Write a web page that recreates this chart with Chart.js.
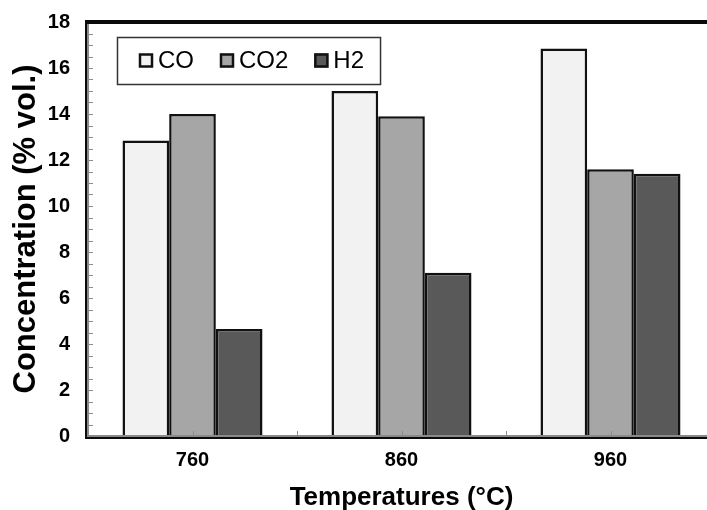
<!DOCTYPE html>
<html>
<head>
<meta charset="utf-8">
<script src="https://cdn.jsdelivr.net/npm/chart.js@4.4.1/dist/chart.umd.min.js"></script>
<style>
  html, body { margin: 0; padding: 0; background: #fff; overflow: hidden; }
  #wrap { width: 707px; height: 510px; overflow: hidden; }
</style>
</head>
<body>
<div id="wrap"><canvas id="gasChart" width="730" height="510"></canvas></div>
<script>
// data
const temperatures = ['760', '860', '960'];
const gasNames = ['CO', 'CO2', 'H2'];
const coValues = [12.85, 15.0, 16.85];
const co2Values = [14.0, 13.9, 11.6];
const h2Values = [4.65, 7.1, 11.4];
const gasColors = ['#f2f2f2', '#a6a6a6', '#595959'];

const FONT = 'Arial, "Liberation Sans", sans-serif';

// plot frame + small inner tick marks
const framePlugin = {
    id: 'frame',
    afterDraw(chart) {
        const { ctx, chartArea: a, scales: { x, y } } = chart;
        ctx.save();

        // y minor ticks (every 0.5), pointing inside
        ctx.strokeStyle = '#8c8c8c';
        ctx.lineWidth = 1;
        for (let v = 0.5; v < y.max; v += 0.5) {
            const py = Math.round(y.getPixelForValue(v)) + 0.5;
            ctx.beginPath();
            ctx.moveTo(a.left, py);
            ctx.lineTo(a.left + 5, py);
            ctx.stroke();
        }

        // x ticks at category centres and boundaries, pointing up
        const half = (x.getPixelForTick(1) - x.getPixelForTick(0)) / 2;
        temperatures.forEach((t, i) => {
            const cx = x.getPixelForTick(i);
            [cx, cx + half].forEach(px => {
                const p = Math.round(px) + 0.5;
                ctx.beginPath();
                ctx.moveTo(p, a.bottom);
                ctx.lineTo(p, a.bottom - 5);
                ctx.stroke();
            });
        });

        // top edge
        ctx.fillStyle = '#0a0a0a';
        ctx.fillRect(a.left - 3, a.top - 2, a.right - a.left + 3, 4);
        // left edge: dark outside, grey inside
        ctx.fillRect(a.left - 3, a.top - 2, 2, a.bottom - a.top + 5);
        ctx.fillStyle = '#8a8a8a';
        ctx.fillRect(a.left - 1, a.top + 2, 2, a.bottom - a.top - 2);
        // bottom edge: grey inside, dark outside
        ctx.fillRect(a.left - 1, a.bottom - 1, a.right - a.left + 1, 2);
        ctx.fillStyle = '#0a0a0a';
        ctx.fillRect(a.left - 3, a.bottom + 1, a.right - a.left + 3, 2);

        ctx.restore();
    }
};

// boxed legend inside the plot area (top-left)
const boxLegendPlugin = {
    id: 'boxLegend',
    afterDraw(chart) {
        const { ctx, chartArea: a } = chart;
        const left = a.left + 29, top = a.top + 15, height = 47;
        const sw = 14, textGap = 5, itemGap = 26, padL = 22, padR = 16;
        ctx.save();
        ctx.font = '24px ' + FONT;
        let width = padL + padR;
        chart.data.datasets.forEach((ds, i) => {
            width += sw + textGap + ctx.measureText(ds.label).width;
            if (i > 0) width += itemGap;
        });
        ctx.fillStyle = '#fff';
        ctx.fillRect(left, top, width, height);
        ctx.strokeStyle = '#333';
        ctx.lineWidth = 1.5;
        ctx.strokeRect(left + 0.5, top + 0.5, width, height);

        let cx = left + padL;
        const cy = top + height / 2;
        chart.data.datasets.forEach((ds, i) => {
            ctx.fillStyle = ds.backgroundColor;
            ctx.fillRect(cx, cy - sw / 2, sw, sw);
            ctx.strokeStyle = '#111';
            ctx.lineWidth = 2.5;
            ctx.strokeRect(cx + 1, cy - sw / 2 + 1, sw - 2, sw - 2);
            cx += sw + textGap;
            ctx.fillStyle = '#000';
            ctx.textBaseline = 'middle';
            ctx.fillText(ds.label, cx, cy + 1);
            cx += ctx.measureText(ds.label).width + itemGap;
        });
        ctx.restore();
    }
};

const seriesValues = [coValues, co2Values, h2Values];
const datasets = gasNames.map((name, i) => ({
    label: name,
    data: seriesValues[i],
    backgroundColor: gasColors[i],
    borderColor: '#111',
    borderWidth: 2.5,
    borderSkipped: 'start',
    categoryPercentage: 0.67,
    barPercentage: 1.0
}));

const ctx = document.getElementById('gasChart').getContext('2d');
new Chart(ctx, {
    type: 'bar',
    data: { labels: temperatures, datasets },
    options: {
        responsive: false,
        animation: false,
        devicePixelRatio: 1,
        layout: { padding: { top: 22, right: 15, left: 0, bottom: 0 } },
        plugins: {
            legend: { display: false },
            tooltip: { enabled: false }
        },
        scales: {
            x: {
                grid: { display: false, drawTicks: false },
                border: { display: false },
                ticks: { color: '#000', padding: 12, font: { family: FONT, size: 20, weight: 'bold' } },
                title: {
                    display: true,
                    text: 'Temperatures (°C)',
                    color: '#000',
                    font: { family: FONT, size: 26, weight: 'bold', lineHeight: 0.9 },
                    padding: { top: 0, bottom: 0 }
                },
                afterFit: scale => {
                    scale.height = 74;
                    scale.paddingLeft = 0;
                    scale.paddingRight = 0;
                }
            },
            y: {
                min: 0,
                max: 18,
                grid: { display: false, drawTicks: false },
                border: { display: false },
                ticks: { stepSize: 2, color: '#000', padding: 18, font: { family: FONT, size: 20, weight: 'bold' } },
                title: {
                    display: true,
                    text: 'Concentration (% vol.)',
                    color: '#000',
                    font: { family: FONT, size: 31, weight: 'bold', lineHeight: 1 },
                    padding: { top: 11, bottom: 0 }
                },
                afterFit: scale => {
                    scale.width = 88;
                    scale.paddingTop = 0;
                    scale.paddingBottom = 0;
                }
            }
        }
    },
    plugins: [framePlugin, boxLegendPlugin]
});
</script>
</body>
</html>
